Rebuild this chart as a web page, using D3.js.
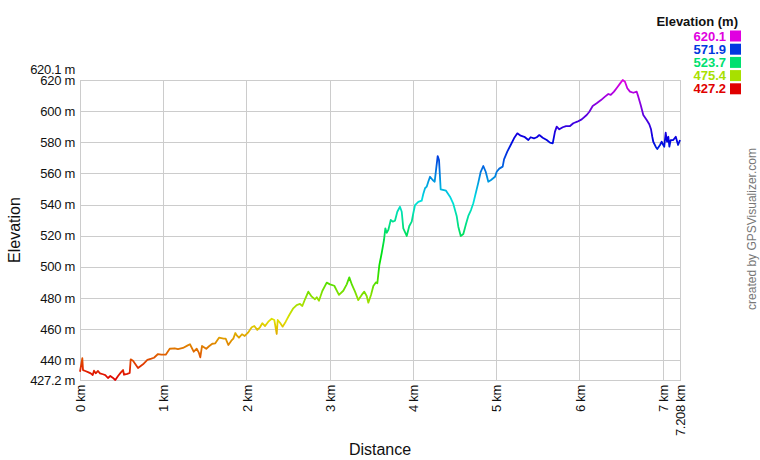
<!DOCTYPE html>
<html>
<head>
<meta charset="utf-8">
<script src="https://cdn.jsdelivr.net/npm/d3@7"></script>
<style>
  body { margin: 0; background: #fff; }
  svg { display: block; font-family: "Liberation Sans", Arial, sans-serif; }
</style>
</head>
<body>
<svg id="chart" width="760" height="460"></svg>
<script>
// track profile: distance (km) and elevation (m)
const distKm = [
  0.000, 0.028, 0.036, 0.064, 0.096, 0.129, 0.153, 0.168, 0.189, 0.216,
  0.240, 0.276, 0.304, 0.336, 0.364, 0.393, 0.424, 0.457, 0.489, 0.517,
  0.529, 0.568, 0.597, 0.609, 0.637, 0.697, 0.757, 0.809, 0.857, 0.889,
  0.937, 0.977, 1.030, 1.078, 1.138, 1.177, 1.237, 1.289, 1.321, 1.366,
  1.402, 1.426, 1.445, 1.466, 1.498, 1.517, 1.550, 1.589, 1.625, 1.670,
  1.726, 1.750, 1.782, 1.818, 1.842, 1.866, 1.886, 1.910, 1.946, 1.979,
  2.018, 2.063, 2.094, 2.130, 2.162, 2.190, 2.223, 2.262, 2.303, 2.334,
  2.363, 2.375, 2.403, 2.435, 2.471, 2.514, 2.562, 2.603, 2.643, 2.671,
  2.703, 2.743, 2.784, 2.823, 2.844, 2.871, 2.911, 2.964, 3.003, 3.055,
  3.111, 3.163, 3.204, 3.235, 3.268, 3.304, 3.343, 3.384, 3.415, 3.444,
  3.464, 3.496, 3.524, 3.556, 3.572, 3.596, 3.624, 3.652, 3.668, 3.685,
  3.704, 3.733, 3.757, 3.784, 3.812, 3.844, 3.865, 3.884, 3.925, 3.956,
  3.985, 4.004, 4.025, 4.064, 4.105, 4.124, 4.145, 4.165, 4.184, 4.205,
  4.237, 4.261, 4.277, 4.297, 4.313, 4.333, 4.397, 4.445, 4.485, 4.525,
  4.545, 4.574, 4.605, 4.637, 4.665, 4.697, 4.725, 4.754, 4.785, 4.814,
  4.845, 4.874, 4.905, 4.938, 4.986, 5.006, 5.037, 5.078, 5.094, 5.133,
  5.174, 5.214, 5.254, 5.294, 5.338, 5.386, 5.414, 5.454, 5.487, 5.518,
  5.559, 5.607, 5.646, 5.679, 5.706, 5.727, 5.758, 5.799, 5.839, 5.887,
  5.926, 5.974, 6.027, 6.087, 6.119, 6.159, 6.207, 6.259, 6.307, 6.347,
  6.376, 6.415, 6.455, 6.496, 6.520, 6.547, 6.575, 6.607, 6.647, 6.688,
  6.707, 6.736, 6.767, 6.808, 6.839, 6.860, 6.875, 6.887, 6.916, 6.935,
  6.968, 6.988, 7.007, 7.019, 7.036, 7.052, 7.068, 7.080, 7.096, 7.127,
  7.157, 7.185, 7.208
];
const elevM = [
  432.5, 441.2, 433.6, 433.0, 432.3, 431.5, 430.4, 433.2, 431.5, 433.0,
  431.5, 430.9, 430.4, 428.5, 429.8, 428.7, 427.2, 429.8, 431.9, 433.6,
  430.6, 431.1, 431.7, 440.5, 439.6, 434.9, 437.3, 440.1, 440.9, 441.5,
  443.9, 443.5, 443.5, 447.3, 447.6, 447.1, 447.8, 449.3, 450.2, 445.4,
  447.3, 445.0, 441.8, 449.1, 448.0, 447.3, 448.9, 450.5, 450.8, 454.4,
  453.8, 453.8, 449.7, 452.5, 453.8, 457.4, 455.7, 454.4, 456.6, 455.5,
  457.6, 461.1, 461.9, 459.4, 461.1, 463.7, 461.9, 464.7, 466.6, 465.8,
  456.8, 465.8, 464.0, 461.5, 464.7, 469.0, 473.3, 475.4, 476.1, 474.8,
  479.1, 484.0, 480.8, 479.1, 480.4, 478.2, 484.4, 489.8, 488.7, 487.8,
  481.9, 484.6, 488.7, 493.2, 488.3, 484.0, 478.6, 481.9, 484.0, 481.2,
  476.9, 481.9, 487.6, 490.0, 489.4, 501.1, 508.7, 517.2, 524.7, 521.9,
  523.7, 530.1, 529.0, 529.6, 535.4, 538.6, 535.4, 524.7, 519.8, 526.2,
  529.0, 534.4, 539.7, 541.7, 542.5, 546.8, 550.5, 551.5, 554.7, 557.9,
  555.8, 554.7, 562.2, 571.2, 568.7, 549.8, 548.9, 545.1, 540.4, 532.7,
  525.8, 519.8, 521.1, 527.5, 532.7, 536.5, 540.8, 547.3, 554.1, 561.1,
  564.8, 561.1, 554.7, 555.8, 557.9, 561.1, 563.1, 564.4, 569.1, 574.0,
  578.3, 582.6, 585.8, 584.3, 583.6, 581.5, 583.3, 582.6, 583.3, 584.7,
  583.0, 581.5, 579.8, 579.4, 586.9, 590.1, 588.4, 589.7, 590.5, 590.5,
  592.3, 593.3, 594.8, 597.6, 599.7, 603.4, 605.1, 607.2, 609.4, 611.1,
  610.5, 612.6, 615.4, 618.4, 620.1, 619.0, 614.8, 612.6, 611.9, 612.6,
  609.4, 604.0, 597.6, 594.4, 591.6, 588.4, 583.6, 580.4, 577.2, 575.7,
  578.3, 580.4, 578.3, 577.2, 586.2, 580.4, 583.6, 577.2, 581.5, 581.5,
  583.6, 578.3, 581.5
];

const elevMin = 427.2, elevMax = 620.1, distMax = 7.208;
const elevTicks = [427.2, 440, 460, 480, 500, 520, 540, 560, 580, 600, 620];
const distTicks = [0, 1, 2, 3, 4, 5, 6, 7, 7.208];
const legendValues = [620.1, 571.9, 523.7, 475.4, 427.2];

const svg = d3.select('#chart');
const M = { left: 80, right: 680, top: 80, bottom: 380 };

const x = d3.scaleLinear().domain([0, distMax]).range([M.left, M.right]);
const y = d3.scaleLinear().domain([elevMin, elevMax]).range([M.bottom, M.top]);
// hue runs red -> magenta across the elevation range
const colorOf = v => d3.hsl(300 * (v - elevMin) / (elevMax - elevMin), 1, 0.44).toString();

// gradient for the profile line
const grad = svg.append('defs').append('linearGradient')
  .attr('id', 'elevGrad')
  .attr('gradientUnits', 'userSpaceOnUse')
  .attr('x1', 0).attr('x2', 0)
  .attr('y1', y(elevMin)).attr('y2', y(elevMax));
d3.range(0, 1.0001, 0.05).forEach(t => {
  grad.append('stop')
    .attr('offset', t)
    .attr('stop-color', colorOf(elevMin + t * (elevMax - elevMin)));
});

// grid
const grid = svg.append('g').attr('stroke', '#cccccc').attr('stroke-width', 1)
  .attr('shape-rendering', 'crispEdges');
grid.selectAll('line.h').data(elevTicks.slice(1)).enter().append('line')
  .attr('x1', M.left).attr('x2', M.right)
  .attr('y1', d => Math.round(y(d)) + 0.5).attr('y2', d => Math.round(y(d)) + 0.5);
grid.selectAll('line.v').data(distTicks.slice(1, -1)).enter().append('line')
  .attr('y1', M.top).attr('y2', M.bottom)
  .attr('x1', d => Math.round(x(d)) + 0.5).attr('x2', d => Math.round(x(d)) + 0.5);
grid.append('rect')
  .attr('x', M.left + 0.5).attr('y', M.top + 0.5)
  .attr('width', M.right - M.left).attr('height', M.bottom - M.top)
  .attr('fill', 'none');

// profile
const line = d3.line().x((d, i) => x(distKm[i])).y(d => y(d));
svg.append('path')
  .datum(elevM)
  .attr('d', line)
  .attr('fill', 'none')
  .attr('stroke', 'url(#elevGrad)')
  .attr('stroke-width', 1.8)
  .attr('stroke-linejoin', 'round');

// y axis
const yAxis = svg.append('g')
  .attr('transform', `translate(${M.left},0)`)
  .call(d3.axisLeft(y).tickValues(elevTicks).tickSize(0).tickPadding(5)
    .tickFormat(d => (d % 1 ? d.toFixed(1) : d) + ' m'));
yAxis.select('.domain').remove();
yAxis.selectAll('text')
  .attr('font-size', 13).attr('font-family', '"Liberation Sans", Arial, sans-serif')
  .attr('fill', '#111').attr('letter-spacing', '-0.3');
yAxis.append('text')
  .attr('x', -5).attr('y', y(elevMax) - 10).attr('dy', '0.32em')
  .attr('text-anchor', 'end')
  .attr('font-size', 13).attr('fill', '#111').attr('letter-spacing', '-0.3')
  .text(elevMax.toFixed(1) + ' m');

// x axis
const xAxis = svg.append('g')
  .attr('transform', `translate(0,${M.bottom})`)
  .call(d3.axisBottom(x).tickValues(distTicks).tickSize(0).tickFormat(d => d + ' km'));
xAxis.select('.domain').remove();
xAxis.selectAll('text')
  .attr('transform', 'rotate(-90)')
  .attr('x', -5).attr('y', 0).attr('dy', '0.35em')
  .attr('text-anchor', 'end')
  .attr('font-size', 13).attr('font-family', '"Liberation Sans", Arial, sans-serif')
  .attr('fill', '#111').attr('letter-spacing', '-0.3');

// axis titles
svg.append('text')
  .attr('transform', `translate(20,${(M.top + M.bottom) / 2}) rotate(-90)`)
  .attr('text-anchor', 'middle').attr('font-size', 16).attr('fill', '#111')
  .text('Elevation');
svg.append('text')
  .attr('x', (M.left + M.right) / 2).attr('y', 455)
  .attr('text-anchor', 'middle').attr('font-size', 16).attr('fill', '#111')
  .text('Distance');

// legend
svg.append('text')
  .attr('x', 738).attr('y', 26)
  .attr('text-anchor', 'end').attr('font-size', 13).attr('font-weight', 'bold')
  .attr('fill', '#111')
  .text('Elevation (m)');
const leg = svg.append('g').selectAll('g').data(legendValues).enter().append('g')
  .attr('transform', (d, i) => `translate(0,${36 + i * 13.2})`);
leg.append('rect')
  .attr('x', 730).attr('y', -5.5).attr('width', 11).attr('height', 11)
  .attr('fill', d => colorOf(d));
leg.append('text')
  .attr('x', 726).attr('y', 0).attr('dy', '0.36em')
  .attr('text-anchor', 'end').attr('font-size', 13).attr('font-weight', 'bold')
  .attr('fill', d => colorOf(d))
  .text(d => d.toFixed(1));

// credit
svg.append('text')
  .attr('transform', 'translate(756,229) rotate(-90)')
  .attr('text-anchor', 'middle').attr('font-size', 12).attr('fill', '#777')
  .text('created by GPSVisualizer.com');
</script>
</body>
</html>
